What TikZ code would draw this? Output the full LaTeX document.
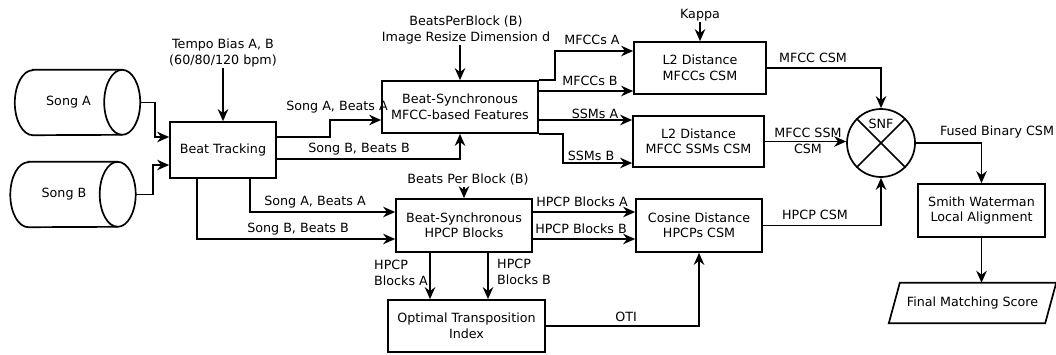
\documentclass[tikz,border=0pt]{standalone}
\usepackage{fontspec}
\setmainfont{DejaVu Sans}
\usetikzlibrary{positioning,arrows.meta,calc}

\begin{document}
\begin{tikzpicture}[
  x=1pt, y=-1pt,
  every node/.style={font=\fontsize{12.7}{15.5}\selectfont},
  box/.style={draw, line width=1.7pt, align=center, inner sep=0pt},
  song/.style={inner sep=0pt, minimum width=107pt, minimum height=65pt},
  lbl/.style={inner sep=1pt, align=center},
  edge/.style={line width=1.7pt},
  arr/.style={-{Stealth[length=12pt,width=10.5pt]}, line width=1.7pt}
]
\useasboundingbox (0,0) rectangle (1056,354);

% inputs
\node[song] (songA) at (68.5,102.5) {Song A};
\node[song] (songB) at (64,194.5) {Song B};
\foreach \s in {songA,songB}{
  \draw[edge] ([xshift=18pt]\s.north west) -- (\s.north east)
    arc[start angle=90, end angle=-90, x radius=18pt, y radius=32.5pt]
    -- ([xshift=18pt]\s.south west)
    arc[start angle=270, end angle=90, x radius=18pt, y radius=32.5pt] -- cycle;
  \draw[edge] (\s.north east) arc[start angle=90, end angle=270, x radius=18pt, y radius=32.5pt];
  \coordinate (\s-out) at ([xshift=18pt]\s.east);
}

% processing blocks
\node[box, minimum width=106pt, minimum height=56pt] (track) at (223,150) {Beat Tracking};
\node[box, minimum width=156pt, minimum height=52pt] (mfcc) at (460,107) {Beat-Synchronous\\MFCC-based Features};
\node[box, minimum width=132pt, minimum height=52pt] (l2a) at (700,68) {L2 Distance\\MFCCs CSM};
\node[box, minimum width=131pt, minimum height=51pt] (l2b) at (698.5,141.5) {L2 Distance\\MFCC SSMs CSM};
\node[box, minimum width=136pt, minimum height=53pt] (hpcp) at (464,225.5) {Beat-Synchronous\\HPCP Blocks};
\node[box, minimum width=126pt, minimum height=53pt] (cos) at (699,225.5) {Cosine Distance\\HPCPs CSM};
\node[box, minimum width=157pt, minimum height=52pt] (oti) at (466.5,326) {Optimal Transposition\\Index};
\node[box, minimum width=127pt, minimum height=53pt] (sw) at (981.5,210.5) {Smith Waterman\\Local Alignment};

% fusion
\node[draw, circle, line width=1.7pt, minimum size=68pt, inner sep=0pt] (snf) at (881,143) {};
\draw[edge] (snf.north east) -- (snf.south west) (snf.north west) -- (snf.south east);
\node[lbl] (snflbl) at (881,124) {SNF};

% output
\node[inner sep=0pt, minimum width=156pt, minimum height=40pt] (final) at (972.5,303) {Final Matching Score};
\draw[edge] ([xshift=-5.5pt]final.south west) -- ([xshift=5.5pt]final.north west)
  -- ([xshift=5.5pt]final.north east) -- ([xshift=-5.5pt]final.south east) -- cycle;

% parameters
\node[lbl] (tempo) at (223,53) {Tempo Bias A, B\\(60/80/120 bpm)};
\node[lbl] (bpbA) at (466,30) {BeatsPerBlock (B)\\Image Resize Dimension d};
\node[lbl] (kappa) at (700,15) {Kappa};
\node[lbl] (bpbB) at (468,180) {Beats Per Block (B)};

\draw[arr] (tempo) -- (track);
\draw[arr] (bpbA.south -| mfcc) -- (mfcc);
\draw[arr] (kappa) -- (l2a);
\draw[arr] (bpbB.south -| hpcp) -- (hpcp);

% connectors
\draw[arr] (songA-out) -- ++(15,0) |- ([yshift=13pt]track.west);
\draw[arr] (songB-out) -- ++(17,0) |- ([yshift=-15pt]track.west);
\draw[arr] ([yshift=13pt]track.east) -- ++(53,0) |- ([yshift=-13pt]mfcc.west);
\draw[arr] ([yshift=-9pt]track.east) -| (mfcc.south);
\draw[arr] (mfcc.north east) -- ++(16,0) |- ([yshift=17pt]l2a.west);
\draw[arr] ([yshift=16pt]mfcc.east) -- ([yshift=16pt]mfcc.east -| l2a.west);
\draw[arr] ([yshift=-13pt]mfcc.east) -- ([yshift=-13pt]mfcc.east -| l2b.west);
\draw[arr] (mfcc.south east) -- ++(24,0) |- ([yshift=-21.5pt]l2b.west);
\draw[arr] (l2a.east) -| (snf.north);
\draw[arr] (l2b.east) -- (l2b.east -| snf.west);
\draw[arr] (cos.east) -| (snf.south);
\draw[arr] (snf.east) -| (sw.north);
\draw[arr] (sw.south) -- (sw.south |- final.north);
\draw[arr] ([xshift=27pt]track.south) |- ([yshift=13.5pt]hpcp.west);
\draw[arr] ([xshift=-26pt]track.south) |- ([yshift=-13.5pt]hpcp.west);
\draw[arr] ([yshift=13.5pt]hpcp.east) -- ([yshift=13.5pt]hpcp.east -| cos.west);
\draw[arr] ([yshift=-13.5pt]hpcp.east) -- ([yshift=-13.5pt]hpcp.east -| cos.west);
\draw[arr] ([xshift=-34pt]hpcp.south) -- ([xshift=-34pt]hpcp.south |- oti.north);
\draw[arr] ([xshift=24pt]hpcp.south) -- ([xshift=24pt]hpcp.south |- oti.north);
\draw[arr] (oti.east) -| (cos.south);

% connector labels
\node[lbl] (lSAa) at (337,107) {Song A, Beats A};
\node[lbl] (lSBa) at (359,149) {Song B, Beats B};
\node[lbl] (lMA) at (592,40) {MFCCs A};
\node[lbl] (lMB) at (590,81) {MFCCs B};
\node[lbl] (lSSA) at (595,114) {SSMs A};
\node[lbl] (lSSB) at (591,156) {SSMs B};
\node[lbl] (lMcsm) at (813,58) {MFCC CSM};
\node[lbl] (lMssm) at (808,141) {MFCC SSM\\CSM};
\node[lbl] (lFused) at (997,132) {Fused Binary CSM};
\node[lbl] (lSAb) at (315,202) {Song A, Beats A};
\node[lbl] (lSBb) at (298,229) {Song B, Beats B};
\node[lbl] (lHA) at (582,202) {HPCP Blocks A};
\node[lbl] (lHB) at (581,229) {HPCP Blocks B};
\node[lbl] (lHcsm) at (815,215) {HPCP CSM};
\node[lbl, align=left, anchor=west] (lHdA) at (373,273) {HPCP\\Blocks A};
\node[lbl, align=left, anchor=west] (lHdB) at (496,272) {HPCP\\Blocks B};
\node[lbl] (lOTI) at (626,317) {OTI};
\end{tikzpicture}
\end{document}
